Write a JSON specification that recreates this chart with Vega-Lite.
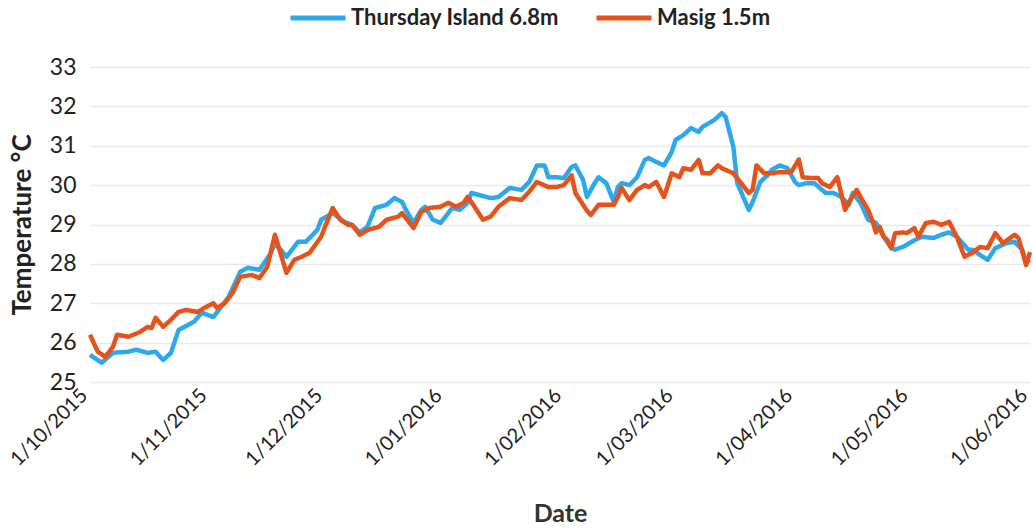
{
  "$schema": "https://vega.github.io/schema/vega-lite/v6.json",
  "autosize": "none",
  "width": 940,
  "height": 315,
  "padding": {"left": 90, "top": 67, "right": 3, "bottom": 147},
  "background": "white",
  "config": {
    "view": {"stroke": null},
    "font": "Lato, Roboto, sans-serif"
  },
  "data": {
    "values": [
      {"date": "2015-10-01", "site": "Thursday Island 6.8m", "temp": 25.69},
      {"date": "2015-10-04", "site": "Thursday Island 6.8m", "temp": 25.49},
      {"date": "2015-10-07", "site": "Thursday Island 6.8m", "temp": 25.74},
      {"date": "2015-10-11", "site": "Thursday Island 6.8m", "temp": 25.77},
      {"date": "2015-10-13", "site": "Thursday Island 6.8m", "temp": 25.82},
      {"date": "2015-10-16", "site": "Thursday Island 6.8m", "temp": 25.74},
      {"date": "2015-10-18", "site": "Thursday Island 6.8m", "temp": 25.77},
      {"date": "2015-10-20", "site": "Thursday Island 6.8m", "temp": 25.56},
      {"date": "2015-10-22", "site": "Thursday Island 6.8m", "temp": 25.74},
      {"date": "2015-10-24", "site": "Thursday Island 6.8m", "temp": 26.32},
      {"date": "2015-10-28", "site": "Thursday Island 6.8m", "temp": 26.53},
      {"date": "2015-10-30", "site": "Thursday Island 6.8m", "temp": 26.76},
      {"date": "2015-11-02", "site": "Thursday Island 6.8m", "temp": 26.65},
      {"date": "2015-11-04", "site": "Thursday Island 6.8m", "temp": 26.9},
      {"date": "2015-11-06", "site": "Thursday Island 6.8m", "temp": 27.16},
      {"date": "2015-11-09", "site": "Thursday Island 6.8m", "temp": 27.8},
      {"date": "2015-11-11", "site": "Thursday Island 6.8m", "temp": 27.9},
      {"date": "2015-11-14", "site": "Thursday Island 6.8m", "temp": 27.85},
      {"date": "2015-11-17", "site": "Thursday Island 6.8m", "temp": 28.28},
      {"date": "2015-11-18", "site": "Thursday Island 6.8m", "temp": 28.53},
      {"date": "2015-11-21", "site": "Thursday Island 6.8m", "temp": 28.18},
      {"date": "2015-11-24", "site": "Thursday Island 6.8m", "temp": 28.56},
      {"date": "2015-11-26", "site": "Thursday Island 6.8m", "temp": 28.56},
      {"date": "2015-11-29", "site": "Thursday Island 6.8m", "temp": 28.86},
      {"date": "2015-11-30", "site": "Thursday Island 6.8m", "temp": 29.12},
      {"date": "2015-12-03", "site": "Thursday Island 6.8m", "temp": 29.29},
      {"date": "2015-12-06", "site": "Thursday Island 6.8m", "temp": 29.07},
      {"date": "2015-12-08", "site": "Thursday Island 6.8m", "temp": 28.99},
      {"date": "2015-12-10", "site": "Thursday Island 6.8m", "temp": 28.8},
      {"date": "2015-12-12", "site": "Thursday Island 6.8m", "temp": 28.94},
      {"date": "2015-12-14", "site": "Thursday Island 6.8m", "temp": 29.42},
      {"date": "2015-12-17", "site": "Thursday Island 6.8m", "temp": 29.5},
      {"date": "2015-12-19", "site": "Thursday Island 6.8m", "temp": 29.67},
      {"date": "2015-12-21", "site": "Thursday Island 6.8m", "temp": 29.57},
      {"date": "2015-12-22", "site": "Thursday Island 6.8m", "temp": 29.37},
      {"date": "2015-12-24", "site": "Thursday Island 6.8m", "temp": 29.04},
      {"date": "2015-12-26", "site": "Thursday Island 6.8m", "temp": 29.37},
      {"date": "2015-12-27", "site": "Thursday Island 6.8m", "temp": 29.45},
      {"date": "2015-12-29", "site": "Thursday Island 6.8m", "temp": 29.12},
      {"date": "2015-12-31", "site": "Thursday Island 6.8m", "temp": 29.04},
      {"date": "2016-01-02", "site": "Thursday Island 6.8m", "temp": 29.29},
      {"date": "2016-01-03", "site": "Thursday Island 6.8m", "temp": 29.42},
      {"date": "2016-01-05", "site": "Thursday Island 6.8m", "temp": 29.37},
      {"date": "2016-01-07", "site": "Thursday Island 6.8m", "temp": 29.55},
      {"date": "2016-01-08", "site": "Thursday Island 6.8m", "temp": 29.8},
      {"date": "2016-01-10", "site": "Thursday Island 6.8m", "temp": 29.75},
      {"date": "2016-01-13", "site": "Thursday Island 6.8m", "temp": 29.67},
      {"date": "2016-01-15", "site": "Thursday Island 6.8m", "temp": 29.7},
      {"date": "2016-01-18", "site": "Thursday Island 6.8m", "temp": 29.93},
      {"date": "2016-01-21", "site": "Thursday Island 6.8m", "temp": 29.88},
      {"date": "2016-01-23", "site": "Thursday Island 6.8m", "temp": 30.08},
      {"date": "2016-01-25", "site": "Thursday Island 6.8m", "temp": 30.5},
      {"date": "2016-01-27", "site": "Thursday Island 6.8m", "temp": 30.5},
      {"date": "2016-01-28", "site": "Thursday Island 6.8m", "temp": 30.2},
      {"date": "2016-01-30", "site": "Thursday Island 6.8m", "temp": 30.2},
      {"date": "2016-02-01", "site": "Thursday Island 6.8m", "temp": 30.18},
      {"date": "2016-02-03", "site": "Thursday Island 6.8m", "temp": 30.46},
      {"date": "2016-02-04", "site": "Thursday Island 6.8m", "temp": 30.5},
      {"date": "2016-02-06", "site": "Thursday Island 6.8m", "temp": 30.13},
      {"date": "2016-02-07", "site": "Thursday Island 6.8m", "temp": 29.7},
      {"date": "2016-02-09", "site": "Thursday Island 6.8m", "temp": 30.05},
      {"date": "2016-02-10", "site": "Thursday Island 6.8m", "temp": 30.2},
      {"date": "2016-02-12", "site": "Thursday Island 6.8m", "temp": 30.05},
      {"date": "2016-02-14", "site": "Thursday Island 6.8m", "temp": 29.57},
      {"date": "2016-02-15", "site": "Thursday Island 6.8m", "temp": 29.95},
      {"date": "2016-02-16", "site": "Thursday Island 6.8m", "temp": 30.05},
      {"date": "2016-02-18", "site": "Thursday Island 6.8m", "temp": 30.0},
      {"date": "2016-02-20", "site": "Thursday Island 6.8m", "temp": 30.2},
      {"date": "2016-02-22", "site": "Thursday Island 6.8m", "temp": 30.64},
      {"date": "2016-02-23", "site": "Thursday Island 6.8m", "temp": 30.69},
      {"date": "2016-02-25", "site": "Thursday Island 6.8m", "temp": 30.59},
      {"date": "2016-02-27", "site": "Thursday Island 6.8m", "temp": 30.5},
      {"date": "2016-02-29", "site": "Thursday Island 6.8m", "temp": 30.84},
      {"date": "2016-03-01", "site": "Thursday Island 6.8m", "temp": 31.15},
      {"date": "2016-03-03", "site": "Thursday Island 6.8m", "temp": 31.27},
      {"date": "2016-03-05", "site": "Thursday Island 6.8m", "temp": 31.45},
      {"date": "2016-03-07", "site": "Thursday Island 6.8m", "temp": 31.35},
      {"date": "2016-03-08", "site": "Thursday Island 6.8m", "temp": 31.48},
      {"date": "2016-03-11", "site": "Thursday Island 6.8m", "temp": 31.65},
      {"date": "2016-03-13", "site": "Thursday Island 6.8m", "temp": 31.83},
      {"date": "2016-03-14", "site": "Thursday Island 6.8m", "temp": 31.73},
      {"date": "2016-03-16", "site": "Thursday Island 6.8m", "temp": 30.97},
      {"date": "2016-03-17", "site": "Thursday Island 6.8m", "temp": 30.05},
      {"date": "2016-03-20", "site": "Thursday Island 6.8m", "temp": 29.37},
      {"date": "2016-03-21", "site": "Thursday Island 6.8m", "temp": 29.57},
      {"date": "2016-03-23", "site": "Thursday Island 6.8m", "temp": 30.08},
      {"date": "2016-03-25", "site": "Thursday Island 6.8m", "temp": 30.26},
      {"date": "2016-03-26", "site": "Thursday Island 6.8m", "temp": 30.39},
      {"date": "2016-03-28", "site": "Thursday Island 6.8m", "temp": 30.5},
      {"date": "2016-03-30", "site": "Thursday Island 6.8m", "temp": 30.43},
      {"date": "2016-04-01", "site": "Thursday Island 6.8m", "temp": 30.08},
      {"date": "2016-04-02", "site": "Thursday Island 6.8m", "temp": 30.0},
      {"date": "2016-04-04", "site": "Thursday Island 6.8m", "temp": 30.05},
      {"date": "2016-04-06", "site": "Thursday Island 6.8m", "temp": 30.05},
      {"date": "2016-04-08", "site": "Thursday Island 6.8m", "temp": 29.88},
      {"date": "2016-04-09", "site": "Thursday Island 6.8m", "temp": 29.8},
      {"date": "2016-04-11", "site": "Thursday Island 6.8m", "temp": 29.8},
      {"date": "2016-04-13", "site": "Thursday Island 6.8m", "temp": 29.7},
      {"date": "2016-04-15", "site": "Thursday Island 6.8m", "temp": 29.5},
      {"date": "2016-04-16", "site": "Thursday Island 6.8m", "temp": 29.8},
      {"date": "2016-04-18", "site": "Thursday Island 6.8m", "temp": 29.55},
      {"date": "2016-04-20", "site": "Thursday Island 6.8m", "temp": 29.12},
      {"date": "2016-04-22", "site": "Thursday Island 6.8m", "temp": 29.04},
      {"date": "2016-04-24", "site": "Thursday Island 6.8m", "temp": 28.69},
      {"date": "2016-04-26", "site": "Thursday Island 6.8m", "temp": 28.4},
      {"date": "2016-04-27", "site": "Thursday Island 6.8m", "temp": 28.36},
      {"date": "2016-04-29", "site": "Thursday Island 6.8m", "temp": 28.43},
      {"date": "2016-05-02", "site": "Thursday Island 6.8m", "temp": 28.6},
      {"date": "2016-05-04", "site": "Thursday Island 6.8m", "temp": 28.69},
      {"date": "2016-05-07", "site": "Thursday Island 6.8m", "temp": 28.66},
      {"date": "2016-05-09", "site": "Thursday Island 6.8m", "temp": 28.74},
      {"date": "2016-05-11", "site": "Thursday Island 6.8m", "temp": 28.8},
      {"date": "2016-05-13", "site": "Thursday Island 6.8m", "temp": 28.69},
      {"date": "2016-05-16", "site": "Thursday Island 6.8m", "temp": 28.36},
      {"date": "2016-05-17", "site": "Thursday Island 6.8m", "temp": 28.36},
      {"date": "2016-05-19", "site": "Thursday Island 6.8m", "temp": 28.23},
      {"date": "2016-05-21", "site": "Thursday Island 6.8m", "temp": 28.1},
      {"date": "2016-05-23", "site": "Thursday Island 6.8m", "temp": 28.4},
      {"date": "2016-05-26", "site": "Thursday Island 6.8m", "temp": 28.53},
      {"date": "2016-05-28", "site": "Thursday Island 6.8m", "temp": 28.56},
      {"date": "2016-05-30", "site": "Thursday Island 6.8m", "temp": 28.36},
      {"date": "2016-05-31", "site": "Thursday Island 6.8m", "temp": 28.03},
      {"date": "2016-06-01", "site": "Thursday Island 6.8m", "temp": 28.1},

      {"date": "2015-10-01", "site": "Masig 1.5m", "temp": 26.2},
      {"date": "2015-10-03", "site": "Masig 1.5m", "temp": 25.77},
      {"date": "2015-10-05", "site": "Masig 1.5m", "temp": 25.64},
      {"date": "2015-10-07", "site": "Masig 1.5m", "temp": 25.9},
      {"date": "2015-10-08", "site": "Masig 1.5m", "temp": 26.2},
      {"date": "2015-10-11", "site": "Masig 1.5m", "temp": 26.15},
      {"date": "2015-10-14", "site": "Masig 1.5m", "temp": 26.27},
      {"date": "2015-10-16", "site": "Masig 1.5m", "temp": 26.4},
      {"date": "2015-10-17", "site": "Masig 1.5m", "temp": 26.37},
      {"date": "2015-10-18", "site": "Masig 1.5m", "temp": 26.63},
      {"date": "2015-10-20", "site": "Masig 1.5m", "temp": 26.4},
      {"date": "2015-10-22", "site": "Masig 1.5m", "temp": 26.58},
      {"date": "2015-10-24", "site": "Masig 1.5m", "temp": 26.78},
      {"date": "2015-10-26", "site": "Masig 1.5m", "temp": 26.83},
      {"date": "2015-10-29", "site": "Masig 1.5m", "temp": 26.78},
      {"date": "2015-10-31", "site": "Masig 1.5m", "temp": 26.9},
      {"date": "2015-11-02", "site": "Masig 1.5m", "temp": 27.0},
      {"date": "2015-11-03", "site": "Masig 1.5m", "temp": 26.88},
      {"date": "2015-11-05", "site": "Masig 1.5m", "temp": 27.0},
      {"date": "2015-11-07", "site": "Masig 1.5m", "temp": 27.26},
      {"date": "2015-11-09", "site": "Masig 1.5m", "temp": 27.67},
      {"date": "2015-11-12", "site": "Masig 1.5m", "temp": 27.72},
      {"date": "2015-11-14", "site": "Masig 1.5m", "temp": 27.64},
      {"date": "2015-11-16", "site": "Masig 1.5m", "temp": 27.92},
      {"date": "2015-11-18", "site": "Masig 1.5m", "temp": 28.74},
      {"date": "2015-11-21", "site": "Masig 1.5m", "temp": 27.77},
      {"date": "2015-11-23", "site": "Masig 1.5m", "temp": 28.1},
      {"date": "2015-11-25", "site": "Masig 1.5m", "temp": 28.18},
      {"date": "2015-11-27", "site": "Masig 1.5m", "temp": 28.28},
      {"date": "2015-11-30", "site": "Masig 1.5m", "temp": 28.69},
      {"date": "2015-12-01", "site": "Masig 1.5m", "temp": 28.94},
      {"date": "2015-12-03", "site": "Masig 1.5m", "temp": 29.42},
      {"date": "2015-12-05", "site": "Masig 1.5m", "temp": 29.12},
      {"date": "2015-12-07", "site": "Masig 1.5m", "temp": 28.99},
      {"date": "2015-12-08", "site": "Masig 1.5m", "temp": 28.99},
      {"date": "2015-12-10", "site": "Masig 1.5m", "temp": 28.74},
      {"date": "2015-12-12", "site": "Masig 1.5m", "temp": 28.86},
      {"date": "2015-12-15", "site": "Masig 1.5m", "temp": 28.94},
      {"date": "2015-12-17", "site": "Masig 1.5m", "temp": 29.12},
      {"date": "2015-12-20", "site": "Masig 1.5m", "temp": 29.2},
      {"date": "2015-12-21", "site": "Masig 1.5m", "temp": 29.29},
      {"date": "2015-12-24", "site": "Masig 1.5m", "temp": 28.91},
      {"date": "2015-12-26", "site": "Masig 1.5m", "temp": 29.32},
      {"date": "2015-12-28", "site": "Masig 1.5m", "temp": 29.42},
      {"date": "2015-12-31", "site": "Masig 1.5m", "temp": 29.45},
      {"date": "2016-01-02", "site": "Masig 1.5m", "temp": 29.55},
      {"date": "2016-01-04", "site": "Masig 1.5m", "temp": 29.45},
      {"date": "2016-01-06", "site": "Masig 1.5m", "temp": 29.55},
      {"date": "2016-01-07", "site": "Masig 1.5m", "temp": 29.7},
      {"date": "2016-01-08", "site": "Masig 1.5m", "temp": 29.57},
      {"date": "2016-01-11", "site": "Masig 1.5m", "temp": 29.12},
      {"date": "2016-01-13", "site": "Masig 1.5m", "temp": 29.2},
      {"date": "2016-01-15", "site": "Masig 1.5m", "temp": 29.45},
      {"date": "2016-01-18", "site": "Masig 1.5m", "temp": 29.67},
      {"date": "2016-01-21", "site": "Masig 1.5m", "temp": 29.62},
      {"date": "2016-01-23", "site": "Masig 1.5m", "temp": 29.83},
      {"date": "2016-01-25", "site": "Masig 1.5m", "temp": 30.08},
      {"date": "2016-01-28", "site": "Masig 1.5m", "temp": 29.95},
      {"date": "2016-01-30", "site": "Masig 1.5m", "temp": 29.95},
      {"date": "2016-02-01", "site": "Masig 1.5m", "temp": 30.0},
      {"date": "2016-02-03", "site": "Masig 1.5m", "temp": 30.25},
      {"date": "2016-02-04", "site": "Masig 1.5m", "temp": 29.8},
      {"date": "2016-02-07", "site": "Masig 1.5m", "temp": 29.35},
      {"date": "2016-02-08", "site": "Masig 1.5m", "temp": 29.24},
      {"date": "2016-02-10", "site": "Masig 1.5m", "temp": 29.5},
      {"date": "2016-02-12", "site": "Masig 1.5m", "temp": 29.5},
      {"date": "2016-02-14", "site": "Masig 1.5m", "temp": 29.5},
      {"date": "2016-02-15", "site": "Masig 1.5m", "temp": 29.7},
      {"date": "2016-02-16", "site": "Masig 1.5m", "temp": 29.93},
      {"date": "2016-02-18", "site": "Masig 1.5m", "temp": 29.62},
      {"date": "2016-02-20", "site": "Masig 1.5m", "temp": 29.88},
      {"date": "2016-02-22", "site": "Masig 1.5m", "temp": 30.0},
      {"date": "2016-02-23", "site": "Masig 1.5m", "temp": 29.95},
      {"date": "2016-02-25", "site": "Masig 1.5m", "temp": 30.08},
      {"date": "2016-02-27", "site": "Masig 1.5m", "temp": 29.7},
      {"date": "2016-02-29", "site": "Masig 1.5m", "temp": 30.3},
      {"date": "2016-03-02", "site": "Masig 1.5m", "temp": 30.2},
      {"date": "2016-03-03", "site": "Masig 1.5m", "temp": 30.43},
      {"date": "2016-03-05", "site": "Masig 1.5m", "temp": 30.39},
      {"date": "2016-03-07", "site": "Masig 1.5m", "temp": 30.64},
      {"date": "2016-03-08", "site": "Masig 1.5m", "temp": 30.3},
      {"date": "2016-03-10", "site": "Masig 1.5m", "temp": 30.3},
      {"date": "2016-03-12", "site": "Masig 1.5m", "temp": 30.5},
      {"date": "2016-03-13", "site": "Masig 1.5m", "temp": 30.43},
      {"date": "2016-03-16", "site": "Masig 1.5m", "temp": 30.3},
      {"date": "2016-03-18", "site": "Masig 1.5m", "temp": 30.05},
      {"date": "2016-03-20", "site": "Masig 1.5m", "temp": 29.8},
      {"date": "2016-03-21", "site": "Masig 1.5m", "temp": 29.88},
      {"date": "2016-03-22", "site": "Masig 1.5m", "temp": 30.5},
      {"date": "2016-03-24", "site": "Masig 1.5m", "temp": 30.3},
      {"date": "2016-03-26", "site": "Masig 1.5m", "temp": 30.3},
      {"date": "2016-03-28", "site": "Masig 1.5m", "temp": 30.33},
      {"date": "2016-03-31", "site": "Masig 1.5m", "temp": 30.33},
      {"date": "2016-04-02", "site": "Masig 1.5m", "temp": 30.65},
      {"date": "2016-04-03", "site": "Masig 1.5m", "temp": 30.2},
      {"date": "2016-04-05", "site": "Masig 1.5m", "temp": 30.18},
      {"date": "2016-04-07", "site": "Masig 1.5m", "temp": 30.18},
      {"date": "2016-04-08", "site": "Masig 1.5m", "temp": 30.05},
      {"date": "2016-04-10", "site": "Masig 1.5m", "temp": 29.95},
      {"date": "2016-04-12", "site": "Masig 1.5m", "temp": 30.2},
      {"date": "2016-04-14", "site": "Masig 1.5m", "temp": 29.37},
      {"date": "2016-04-15", "site": "Masig 1.5m", "temp": 29.57},
      {"date": "2016-04-17", "site": "Masig 1.5m", "temp": 29.88},
      {"date": "2016-04-18", "site": "Masig 1.5m", "temp": 29.7},
      {"date": "2016-04-20", "site": "Masig 1.5m", "temp": 29.37},
      {"date": "2016-04-21", "site": "Masig 1.5m", "temp": 29.12},
      {"date": "2016-04-22", "site": "Masig 1.5m", "temp": 28.8},
      {"date": "2016-04-23", "site": "Masig 1.5m", "temp": 28.94},
      {"date": "2016-04-24", "site": "Masig 1.5m", "temp": 28.69},
      {"date": "2016-04-25", "site": "Masig 1.5m", "temp": 28.6},
      {"date": "2016-04-26", "site": "Masig 1.5m", "temp": 28.4},
      {"date": "2016-04-27", "site": "Masig 1.5m", "temp": 28.78},
      {"date": "2016-04-29", "site": "Masig 1.5m", "temp": 28.8},
      {"date": "2016-04-30", "site": "Masig 1.5m", "temp": 28.78},
      {"date": "2016-05-02", "site": "Masig 1.5m", "temp": 28.91},
      {"date": "2016-05-03", "site": "Masig 1.5m", "temp": 28.69},
      {"date": "2016-05-05", "site": "Masig 1.5m", "temp": 29.04},
      {"date": "2016-05-07", "site": "Masig 1.5m", "temp": 29.07},
      {"date": "2016-05-09", "site": "Masig 1.5m", "temp": 28.99},
      {"date": "2016-05-11", "site": "Masig 1.5m", "temp": 29.07},
      {"date": "2016-05-13", "site": "Masig 1.5m", "temp": 28.69},
      {"date": "2016-05-15", "site": "Masig 1.5m", "temp": 28.18},
      {"date": "2016-05-17", "site": "Masig 1.5m", "temp": 28.28},
      {"date": "2016-05-19", "site": "Masig 1.5m", "temp": 28.43},
      {"date": "2016-05-21", "site": "Masig 1.5m", "temp": 28.4},
      {"date": "2016-05-23", "site": "Masig 1.5m", "temp": 28.78},
      {"date": "2016-05-25", "site": "Masig 1.5m", "temp": 28.53},
      {"date": "2016-05-28", "site": "Masig 1.5m", "temp": 28.74},
      {"date": "2016-05-29", "site": "Masig 1.5m", "temp": 28.66},
      {"date": "2016-05-31", "site": "Masig 1.5m", "temp": 27.97},
      {"date": "2016-06-01", "site": "Masig 1.5m", "temp": 28.3}
    ]
  },
  "encoding": {
    "x": {
      "field": "date",
      "type": "temporal",
      "title": "Date",
      "scale": {"domain": ["2015-10-01", "2016-06-01"]},
      "axis": {
        "values": ["2015-10-01", "2015-11-01", "2015-12-01", "2016-01-01", "2016-02-01", "2016-03-01", "2016-04-01", "2016-05-01", "2016-06-01"],
        "format": "%-d/%m/%Y",
        "labelAngle": -45,
        "labelAlign": "right",
        "labelBaseline": "middle",
        "labelFontSize": 20,
        "labelColor": "#222222",
        "labelPadding": 10,
        "labelOffset": -6,
        "labelBound": false,
        "ticks": false,
        "domain": false,
        "grid": false,
        "titleFontSize": 25,
        "titleFontWeight": "bold",
        "titleColor": "#333333",
        "titlePadding": 32
      }
    },
    "y": {
      "field": "temp",
      "type": "quantitative",
      "title": "Temperature °C",
      "scale": {"domain": [25, 33], "nice": false, "zero": false},
      "axis": {
        "values": [25, 26, 27, 28, 29, 30, 31, 32, 33],
        "labelFontSize": 23,
        "labelColor": "#222222",
        "labelPadding": 14,
        "ticks": false,
        "domain": false,
        "gridColor": "#e9e9e9",
        "gridWidth": 1.5,
        "titleFontSize": 26,
        "titleFontWeight": "bold",
        "titleColor": "#222222",
        "titlePadding": 14
      }
    },
    "color": {
      "field": "site",
      "type": "nominal",
      "scale": {
        "domain": ["Thursday Island 6.8m", "Masig 1.5m"],
        "range": ["#2ea8ec", "#e6531a"]
      },
      "legend": {
        "title": null,
        "orient": "none",
        "legendX": 198,
        "legendY": -79,
        "direction": "horizontal",
        "symbolType": "stroke",
        "symbolSize": 3025,
        "symbolStrokeWidth": 5,
        "labelFontSize": 22,
        "labelFontWeight": "bold",
        "labelColor": "#222222",
        "labelOffset": 3,
        "labelLimit": 0,
        "columnPadding": 27
      }
    }
  },
  "layer": [
    {
      "transform": [{"filter": "datum.site === 'Thursday Island 6.8m'"}],
      "mark": {"type": "line", "strokeWidth": 4.5, "strokeJoin": "round"}
    },
    {
      "transform": [{"filter": "datum.site === 'Masig 1.5m'"}],
      "mark": {"type": "line", "strokeWidth": 4.5, "strokeJoin": "round"}
    }
  ]
}
